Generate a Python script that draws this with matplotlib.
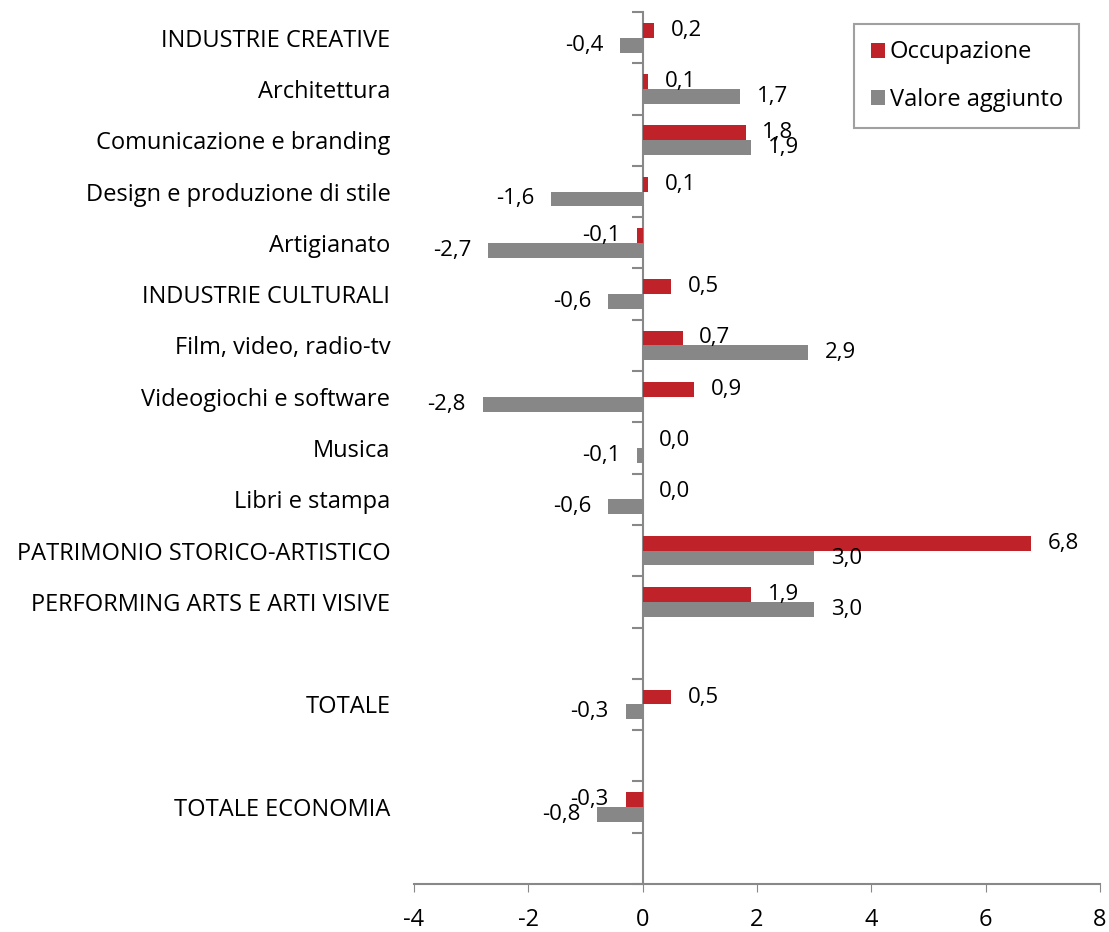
import matplotlib
matplotlib.use("Agg")
import matplotlib.pyplot as plt
import numpy as np

# ----------------------------------------------------------------------------#
#                                   data                                      #
# ----------------------------------------------------------------------------#
categories = [
    "INDUSTRIE CREATIVE", "Architettura", "Comunicazione e branding",
    "Design e produzione di stile", "Artigianato", "INDUSTRIE CULTURALI",
    "Film, video, radio-tv", "Videogiochi e software", "Musica",
    "Libri e stampa", "PATRIMONIO STORICO-ARTISTICO",
    "PERFORMING ARTS E ARTI VISIVE", "", "TOTALE", "", "TOTALE ECONOMIA", "",
]
occupazione = [0.2, 0.1, 1.8, 0.1, -0.1, 0.5, 0.7, 0.9, 0.0, 0.0, 6.8, 1.9,
               None, 0.5, None, -0.3, None]
valore_aggiunto = [-0.4, 1.7, 1.9, -1.6, -2.7, -0.6, 2.9, -2.8, -0.1, -0.6,
                   3.0, 3.0, None, -0.3, None, -0.8, None]
x_ticks = [-4, -2, 0, 2, 4, 6, 8]

RED = "#C0222A"
GREY = "#878787"
AXIS = "#888888"

plt.rcParams["font.family"] = ["Open Sans", "DejaVu Sans"]

fig = plt.figure(figsize=(11.09, 9.32), dpi=100)
ax = fig.add_axes([0.3733, 0.0515, 0.6186, 0.9356])

y = np.arange(len(categories))
h = 0.29


def fmt(v):
    return f"{v:.1f}".replace(".", ",")


series = [(occupazione, RED, -h / 2, "Occupazione"),
          (valore_aggiunto, GREY, h / 2, "Valore aggiunto")]
for vals, col, off, name in series:
    idx = [i for i, v in enumerate(vals) if v is not None]
    vv = [vals[i] for i in idx]
    ax.barh(y[idx] + off, vv, height=h, color=col, label=name)
    for i, v in zip(idx, vv):
        sign = 1 if v >= 0 else -1
        ax.annotate(fmt(v), (v, y[i] + off), xytext=(sign * 12, 0),
                    textcoords="offset points", va="center",
                    ha="left" if sign > 0 else "right", fontsize=16)

ax.set_xlim(-4, 8)
ax.set_ylim(len(categories) - 0.5, -0.5)
ax.set_xticks(x_ticks)
ax.set_xticklabels([str(t) for t in x_ticks], fontsize=17)
ax.set_yticks(y)
ax.set_yticklabels(categories, fontsize=17)
ax.tick_params(axis="y", length=0, pad=17)
ax.tick_params(axis="x", length=6, color=AXIS, pad=11)

for s in ["left", "right", "top"]:
    ax.spines[s].set_visible(False)
ax.spines["bottom"].set_color(AXIS)
ax.spines["bottom"].set_linewidth(1.5)

# vertical axis at x = 0 with ticks between categories
sec = ax.secondary_yaxis(1 / 3)
sec.set_yticks(np.arange(len(categories) + 1) - 0.5)
sec.set_yticklabels([])
sec.tick_params(axis="y", direction="out", length=8, color=AXIS, width=1.5)
sec.spines["left"].set_color(AXIS)
sec.spines["left"].set_linewidth(1.5)

leg = ax.legend(loc="upper right", bbox_to_anchor=(0.987, 1.0), fontsize=17,
                handlelength=0.6, handleheight=0.6, handletextpad=0.2,
                labelspacing=1.0, borderpad=0.7, fancybox=False,
                edgecolor=AXIS)
leg.get_frame().set_linewidth(1.5)

fig.savefig("out.png", dpi=100)
